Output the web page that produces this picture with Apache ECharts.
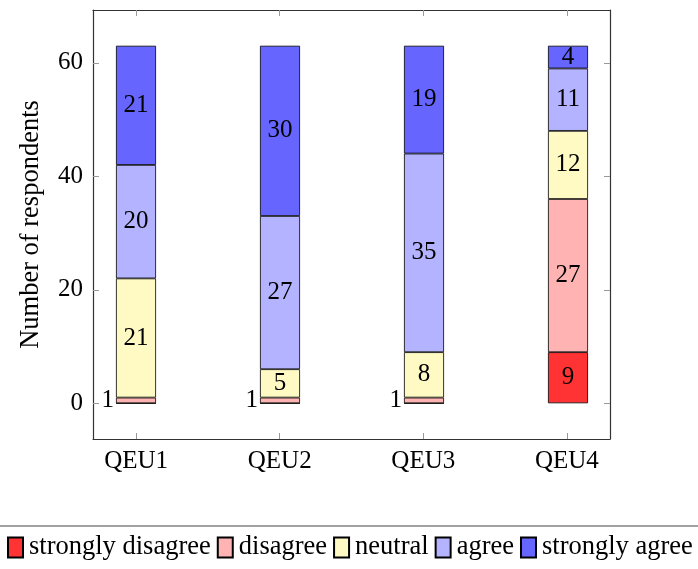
<!DOCTYPE html>
<html><head><meta charset="utf-8">
<script src="https://cdn.jsdelivr.net/npm/echarts@6/dist/echarts.min.js"></script>
<style>html,body{margin:0;padding:0;background:#fff}#c{width:698px;height:569px}</style>
</head><body><div id="c"></div>
<script>
const categories = ['QEU1', 'QEU2', 'QEU3', 'QEU4'];
const stronglyDisagree = [0, 0, 0, 9];
const disagree = [1, 1, 1, 27];
const neutral = [21, 5, 8, 12];
const agree = [20, 27, 35, 11];
const stronglyAgree = [21, 30, 19, 4];
const yTicks = [0, 20, 40, 60];
const seriesNames = ['strongly disagree', 'disagree', 'neutral', 'agree', 'strongly agree'];
const seriesColors = ['#ff3333', '#ffb3b3', '#fffac4', '#b3b3ff', '#6666ff'];
const seriesValues = [stronglyDisagree, disagree, neutral, agree, stronglyAgree];

const FONT = 'Liberation Serif';
const chart = echarts.init(document.getElementById('c'));
const xTickVals = categories.map((c, i) => i);
const Y_MIN = -6.3, Y_MAX = 69.3;

function mkX(pos) {
  return {
    gridIndex: 1, type: 'value', min: -0.3, max: 3.3, position: pos,
    axisLine: { show: true, onZero: false, lineStyle: { color: '#333', width: 1.2 } },
    axisTick: { show: true, inside: true, length: 6, customValues: xTickVals, lineStyle: { color: '#999' } },
    axisLabel: pos === 'bottom' ? {
      show: true, customValues: xTickVals, formatter: v => categories[Math.round(v)] || '',
      fontFamily: FONT, fontSize: 25, color: '#000', margin: 10
    } : { show: false },
    splitLine: { show: false }
  };
}
function mkY(pos) {
  return {
    gridIndex: 1, type: 'value', min: Y_MIN, max: Y_MAX, position: pos,
    name: pos === 'left' ? 'Number of respondents' : '',
    nameLocation: 'middle', nameGap: 48, nameRotate: 90,
    nameTextStyle: { fontFamily: FONT, fontSize: 26.5, color: '#000' },
    axisLine: { show: true, onZero: false, lineStyle: { color: '#333', width: 1.2 } },
    axisTick: { show: true, inside: true, length: 6, customValues: yTicks, lineStyle: { color: '#999' } },
    axisLabel: pos === 'left' ? {
      show: true, customValues: yTicks, fontFamily: FONT, fontSize: 25, color: '#000', margin: 10
    } : { show: false },
    splitLine: { show: false }
  };
}

const series = seriesNames.map((name, s) => ({
  name, type: 'bar', stack: 'total', barWidth: 40, xAxisIndex: 0, yAxisIndex: 0,
  itemStyle: { color: seriesColors[s], borderColor: '#000', borderWidth: 0.8 },
  label: {
    show: true, position: 'inside', fontFamily: FONT, fontSize: 25, color: '#000',
    formatter: p => (p.value > 0 ? String(p.value) : '')
  },
  data: seriesValues[s].map(v => {
    const item = { value: v };
    if (v > 0 && v < 3) item.label = { position: 'left', distance: 2 };
    return item;
  })
}));

chart.setOption({
  animation: false,
  grid: [
    { left: 64, top: 10, width: 576, bottom: 130 },
    { left: 93, top: 10, right: 88, bottom: 130 }
  ],
  xAxis: [
    { gridIndex: 0, type: 'category', data: categories, boundaryGap: true, show: false },
    mkX('bottom'), mkX('top')
  ],
  yAxis: [
    { gridIndex: 0, type: 'value', min: Y_MIN, max: Y_MAX, show: false, splitLine: { show: false } },
    mkY('left'), mkY('right')
  ],
  legend: {
    data: seriesNames, left: 7, top: 534, width: 760, padding: 0,
    itemWidth: 15, itemHeight: 20, itemGap: 6,
    icon: 'rect',
    textStyle: { fontFamily: FONT, fontSize: 26.5, color: '#000', padding: [0, 0, 0, 1] }
  },
  graphic: [{
    type: 'line', shape: { x1: 0, y1: 526, x2: 698, y2: 526 },
    style: { stroke: '#444', lineWidth: 1.2 }
  }],
  series
});
</script></body></html>
